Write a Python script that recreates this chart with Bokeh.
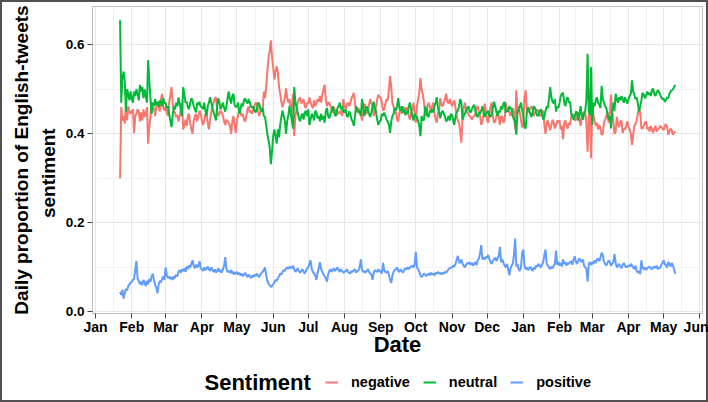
from datetime import datetime, timedelta
from bokeh.plotting import figure
from bokeh.layouts import column
from bokeh.models import (Range1d, FixedTicker, DatetimeTickFormatter, PrintfTickFormatter,
                          Legend, LegendItem, ColumnDataSource, LinearAxis, Label)
from bokeh.embed import file_html
from bokeh.resources import INLINE

# ---------------- data (daily proportions x 1000, from 2020-01-22 to 2021-05-11) ----------------
start_date = datetime(2020, 1, 22)

negative = [
    300, 460, 430, 440, 423, 460, 430, 462, 450, 445,                                   # Jan 20
    450, 455, 402, 440, 445, 455, 450, 428, 448, 430, 455, 438, 445, 460, 378, 415, 440, 470, 455, 458,
    440, 462, 470, 462, 450, 478, 490, 460, 452,                                        # Feb 20
    462, 448, 440, 470, 488, 505, 470, 452, 448, 438, 442, 428, 440, 455, 472, 410, 420, 432, 418, 440,
    445, 425, 410, 400, 430, 438, 445, 428, 440, 452, 445,                              # Mar 20
    430, 420, 432, 445, 442, 425, 410, 432, 448, 462, 470, 478, 482, 455, 440, 445, 452, 448, 440, 428,
    420, 432, 428, 425, 418, 400, 428, 440, 420, 402,                                   # Apr 20
    430, 442, 452, 448, 440, 445, 432, 428, 440, 455, 462, 448, 452, 445, 455, 462, 470, 468, 452, 440,
    448, 455, 450, 495, 480, 505, 540, 570, 585, 610, 572,                              # May 20
    550, 522, 540, 552, 538, 505, 490, 472, 460, 470, 482, 502, 480, 470, 478, 440, 462, 490, 395, 440,
    455, 470, 478, 482, 468, 472, 478, 462, 458, 470,                                   # Jun 20
    468, 482, 470, 462, 458, 475, 462, 470, 478, 472, 485, 470, 488, 500, 510, 478, 462, 470, 470, 462,
    455, 448, 460, 452, 440, 452, 445, 448, 452, 440, 478,                              # Jul 20
    462, 455, 466, 470, 462, 470, 480, 485, 492, 468, 448, 452, 458, 445, 445, 430, 448, 468, 462, 445,
    452, 465, 478, 468, 465, 440, 448, 460, 478, 488, 482,                              # Aug 20
    482, 470, 452, 455, 468, 478, 475, 498, 530, 505, 470, 462, 445, 450, 432, 428, 448, 455, 445, 462,
    448, 460, 452, 458, 440, 432, 445, 455, 470, 448,                                   # Sep 20
    425, 462, 478, 492, 525, 500, 488, 470, 448, 440, 462, 470, 460, 452, 462, 470, 448, 432, 425, 448,
    455, 480, 465, 462, 470, 478, 490, 472, 468, 478, 470,                              # Oct 20
    462, 470, 475, 458, 440, 430, 425, 405, 380, 438, 458, 470, 455, 448, 445, 440, 438, 432, 438, 440,
    445, 460, 462, 448, 440, 420, 428, 445, 468, 452,                                   # Nov 20
    430, 425, 445, 462, 470, 438, 425, 428, 440, 452, 438, 420, 440, 438, 425, 430, 470, 452, 458, 448,
    440, 450, 458, 448, 410, 498, 445, 462, 448, 432, 415,                              # Dec 20
    420, 480, 498, 455, 448, 452, 458, 462, 455, 440, 448, 452, 455, 448, 440, 442, 450, 452, 420, 400,
    425, 430, 418, 408, 420, 432, 425, 412, 420, 430, 425,                              # Jan 21
    430, 410, 418, 388, 425, 430, 418, 412, 425, 420, 440, 445, 442, 430, 432, 438, 448, 432, 418, 440,
    445, 448, 450, 422, 360, 438, 448, 345,                                             # Feb 21
    468, 440, 430, 418, 425, 410, 420, 412, 398, 400, 425, 432, 440, 448, 425, 442, 488, 452, 428, 400,
    405, 438, 422, 415, 428, 430, 402, 412, 410, 418, 428,                              # Mar 21
    415, 410, 400, 375, 398, 418, 422, 430, 445, 458, 448, 412, 412, 418, 425, 428, 410, 415, 405, 418,
    410, 402, 412, 418, 405, 410, 412, 418, 415, 412,                                   # Apr 21
    408, 418, 422, 415, 398, 405, 412, 408, 398, 402, 405,                              # May 21
]

neutral = [
    655, 470, 525, 540, 520, 450, 500, 490, 475, 495,
    480, 470, 495, 485, 500, 490, 475, 510, 495, 505, 480, 500, 485, 470, 565, 520, 480, 445, 470, 462,
    478, 465, 472, 460, 475, 470, 462, 480, 468,
    470, 458, 462, 445, 430, 415, 440, 462, 455, 470, 462, 482, 468, 455, 440, 505, 488, 470, 472, 460,
    455, 470, 480, 475, 462, 455, 448, 470, 465, 472, 460,
    462, 455, 470, 452, 440, 462, 470, 482, 470, 460, 448, 440, 430, 462, 480, 470, 455, 462, 470, 458,
    450, 462, 480, 495, 478, 468, 485, 490, 465, 460,
    462, 470, 445, 455, 468, 462, 475, 480, 472, 468, 478, 470, 462, 458, 462, 452, 448, 455, 470, 468,
    455, 450, 458, 440, 438, 420, 400, 385, 370, 332, 360,
    395, 410, 395, 378, 410, 392, 420, 438, 452, 440, 428, 400, 430, 442, 462, 448, 430, 412, 505, 472,
    458, 448, 435, 428, 440, 445, 432, 448, 452, 440,
    455, 420, 432, 445, 440, 430, 452, 448, 435, 440, 428, 445, 432, 440, 425, 450, 458, 440, 435, 445,
    452, 462, 450, 440, 445, 458, 462, 470, 455, 462, 450,
    448, 455, 440, 438, 450, 445, 432, 428, 418, 440, 462, 455, 448, 452, 440, 478, 462, 440, 450, 462,
    455, 445, 438, 448, 462, 472, 458, 448, 432, 420, 428,
    430, 445, 440, 448, 440, 432, 428, 420, 402, 428, 440, 445, 458, 452, 462, 480, 458, 452, 462, 448,
    455, 442, 450, 445, 462, 470, 455, 440, 430, 445,
    440, 438, 428, 418, 395, 440, 432, 430, 462, 455, 440, 438, 452, 448, 455, 448, 462, 470, 482, 458,
    448, 435, 448, 452, 445, 438, 428, 432, 440, 430, 445,
    442, 430, 420, 440, 448, 452, 462, 478, 470, 432, 440, 445, 452, 458, 462, 450, 448, 455, 462, 465,
    452, 440, 438, 448, 445, 452, 462, 450, 438, 445,
    448, 452, 440, 438, 445, 458, 472, 462, 448, 440, 452, 448, 462, 455, 468, 472, 448, 452, 450, 462,
    458, 455, 440, 432, 428, 398, 452, 450, 462, 470, 455,
    440, 415, 412, 448, 460, 452, 445, 438, 450, 462, 458, 448, 440, 442, 452, 455, 445, 432, 438, 452,
    462, 458, 480, 505, 482, 472, 468, 478, 450, 462, 458,
    470, 485, 490, 492, 470, 462, 478, 482, 470, 472, 445, 440, 432, 438, 450, 448, 430, 445, 462, 440,
    432, 448, 452, 478, 580, 450, 442, 550,
    420, 470, 462, 475, 482, 470, 465, 458, 508, 478, 470, 462, 458, 445, 432, 440, 412, 448, 470, 452,
    490, 478, 470, 482, 475, 485, 478, 470, 482, 475, 468,
    478, 485, 490, 520, 495, 488, 478, 482, 468, 450, 462, 475, 492, 488, 480, 485, 495, 488, 492, 485,
    498, 502, 490, 485, 492, 498, 495, 488, 482, 478,
    480, 472, 475, 482, 480, 490, 495, 498, 500, 505, 510,
]

positive = [
    45, 38, 50, 30, 42, 52, 48, 58, 62, 66,
    68, 72, 75, 95, 114, 75, 70, 62, 68, 60, 72, 66, 58, 70, 62, 74, 68, 80, 86, 72,
    60, 55, 42, 62, 70, 66, 74, 80, 72,
    100, 82, 76, 80, 74, 78, 72, 80, 76, 84, 80, 90, 94, 88, 96, 92, 98, 90, 102, 96,
    104, 100, 108, 116, 104, 98, 106, 100, 104, 114, 98,
    96, 92, 100, 94, 98, 102, 96, 92, 100, 94, 90, 96, 88, 92, 98, 90, 94, 88, 96, 104,
    123, 96, 90, 92, 88, 94, 86, 90, 84, 88,
    90, 84, 88, 82, 86, 80, 84, 88, 82, 78, 84, 80, 76, 82, 78, 84, 80, 86, 82, 78,
    84, 88, 90, 94, 100, 82, 70, 64, 60, 56, 58,
    62, 66, 72, 70, 76, 80, 86, 84, 90, 94, 92, 98, 100, 96, 102, 100, 98, 104, 96, 90,
    94, 98, 92, 88, 92, 96, 90, 86, 92, 98,
    100, 108, 116, 96, 90, 86, 82, 72, 88, 98, 112, 96, 90, 84, 80, 76, 68, 84, 92, 96,
    90, 94, 98, 92, 96, 100, 94, 90, 96, 92, 88,
    90, 92, 96, 90, 88, 86, 92, 90, 94, 96, 88, 92, 94, 100, 118, 94, 90, 92, 88, 92,
    96, 90, 86, 84, 72, 88, 94, 92, 90, 96, 90,
    92, 86, 110, 94, 90, 88, 92, 84, 72, 65, 82, 90, 94, 96, 100, 92, 90, 96, 92, 88,
    94, 98, 96, 100, 96, 100, 102, 104, 100, 106,
    135, 100, 96, 90, 82, 78, 82, 86, 84, 80, 84, 86, 82, 88, 84, 86, 82, 88, 86, 90,
    86, 88, 84, 88, 86, 90, 88, 92, 96, 98, 100,
    100, 104, 102, 108, 118, 126, 112, 110, 118, 108, 104, 100, 106, 110, 108, 112, 106, 110, 104, 108,
    112, 105, 116, 120, 132, 150, 118, 122, 118, 124,
    122, 128, 118, 112, 108, 116, 118, 122, 114, 120, 126, 146, 112, 118, 110, 104, 100, 108, 96, 82,
    98, 104, 108, 128, 165, 102, 108, 96, 92, 100, 132,
    140, 104, 96, 100, 94, 98, 102, 96, 92, 100, 96, 104, 102, 108, 104, 100, 106, 112, 128, 140,
    108, 104, 100, 96, 102, 98, 104, 108, 138, 106, 112,
    104, 110, 102, 118, 108, 112, 104, 110, 108, 112, 114, 106, 118, 125, 112, 108, 116, 120, 114, 112,
    118, 104, 100, 96, 68, 108, 112, 105,
    112, 108, 116, 110, 118, 120, 114, 122, 133, 128, 112, 108, 104, 110, 116, 112, 104, 108, 112, 130,
    110, 100, 104, 108, 102, 98, 106, 110, 104, 100, 102,
    104, 102, 108, 104, 100, 96, 104, 92, 88, 92, 85, 116, 98, 96, 100, 94, 98, 100, 102, 98,
    96, 100, 102, 98, 104, 96, 100, 98, 106, 110,
    116, 108, 104, 100, 112, 108, 102, 110, 104, 96, 86,
]

series_names = ["negative", "neutral", "positive"]
series_values = [negative, neutral, positive]
series_colors = ["#F8766D", "#00BA38", "#619CFF"]

month_ticks = [datetime(2020, m, 1) for m in range(1, 13)] + [datetime(2021, m, 1) for m in range(1, 7)]
y_ticks = [0.0, 0.2, 0.4, 0.6]
y_minor_ticks = [0.1, 0.3, 0.5]

y_title_lines = ["Daily proportion of English-tweets", "sentiment"]
x_title = "Date"
legend_title = "Sentiment"

# ---------------- main figure ----------------
EPOCH = datetime(1970, 1, 1)


def ms(dt):
    return (dt - EPOCH).total_seconds() * 1000.0


FONT = "Liberation Sans, Arial, sans-serif"
PAD = "\u00a0" * 5   # shifts the short rotated title line slightly downward, as in the reference

p = figure(width=708, height=366, x_axis_type="datetime", output_backend="svg",
           toolbar_location=None, min_border_left=92, min_border_right=6,
           min_border_top=6, min_border_bottom=53,
           x_range=Range1d(datetime(2019, 12, 29, 10), datetime(2021, 6, 3, 7)),
           y_range=Range1d(-0.0035, 0.686))
p.background_fill_color = "white"
p.border_fill_color = None
p.outline_line_color = "#BDBDBD"
p.outline_line_width = 1

renderers = []
for name, vals, col in zip(series_names, series_values, series_colors):
    dates = [start_date + timedelta(days=i) for i in range(len(vals))]
    src = ColumnDataSource(dict(date=dates, value=[v / 1000.0 for v in vals]))
    r = p.line("date", "value", source=src, line_color=col, line_width=2)
    renderers.append(r)

tick_ms = [ms(d) for d in month_ticks]
minor_ms = [(a + b) / 2 for a, b in zip(tick_ms[:-1], tick_ms[1:])]
p.xaxis.ticker = FixedTicker(ticks=tick_ms, minor_ticks=minor_ms)
fmt = "%b"
p.xaxis.formatter = DatetimeTickFormatter(microseconds=fmt, milliseconds=fmt, seconds=fmt, minsec=fmt,
                                          minutes=fmt, hourmin=fmt, hours=fmt, days=fmt,
                                          months=fmt, years=fmt)
p.yaxis.ticker = FixedTicker(ticks=y_ticks, minor_ticks=y_minor_ticks)
p.yaxis.formatter = PrintfTickFormatter(format="%.1f")

for g in (p.xgrid, p.ygrid):
    g.grid_line_color = "#E6E6E6"
    g.grid_line_width = 1.1
    g.minor_grid_line_color = "#F2F2F2"
    g.minor_grid_line_width = 1

for ax in (p.xaxis, p.yaxis):
    ax.axis_line_color = None
    ax.major_tick_line_color = "#444444"
    ax.major_tick_in = 0
    ax.major_tick_out = 5
    ax.minor_tick_line_color = None
    ax.major_label_text_font = FONT
    ax.major_label_text_font_style = "bold"
    ax.major_label_text_color = "black"
    ax.axis_label_text_font = FONT
    ax.axis_label_text_font_style = "bold"
    ax.axis_label_text_color = "black"

p.xaxis.major_label_text_font_size = "14px"
p.xaxis.major_label_standoff = 0
p.xaxis.axis_label = x_title
p.xaxis.axis_label_text_font_size = "22px"
p.xaxis.axis_label_standoff = -6

p.yaxis.major_label_text_font_size = "13.5px"
p.yaxis.major_label_standoff = 3
p.yaxis.axis_label = y_title_lines[1] + PAD
p.yaxis.axis_label_text_font_size = "19px"
p.yaxis.axis_label_standoff = 4

title_axis = LinearAxis(ticker=FixedTicker(ticks=[]), axis_label=y_title_lines[0],
                        axis_line_color=None, major_tick_line_color=None, minor_tick_line_color=None,
                        major_tick_out=0, major_tick_in=0, major_label_standoff=0,
                        axis_label_standoff=3, axis_label_text_font=FONT,
                        axis_label_text_font_style="bold", axis_label_text_font_size="19px",
                        axis_label_text_color="black")
p.add_layout(title_axis, "left")

# ---------------- legend strip (own small figure below the plot; frames are aligned) ----------------
lg = figure(width=708, height=36, output_backend="svg", toolbar_location=None,
            x_axis_location=None, y_axis_location=None, min_border=0,
            x_range=Range1d(0, 1), y_range=Range1d(0, 1))
lg.outline_line_color = None
lg.xgrid.visible = False
lg.ygrid.visible = False
lg.background_fill_color = None
lg.border_fill_color = None

key_renderers = []
for name, col in zip(series_names, series_colors):
    # keys only: the segment lies outside the visible range
    key_renderers.append(lg.line(x=[0, 1], y=[-5, -5], line_color=col, line_width=2))

lg.add_layout(Label(x=112, y=20, x_units="screen", y_units="screen", text=legend_title,
                    text_align="left", text_baseline="middle", text_font=FONT,
                    text_font_style="bold", text_font_size="22px", text_color="black"))
legend = Legend(items=[LegendItem(label=n, renderers=[r]) for n, r in zip(series_names, key_renderers)],
                orientation="horizontal", location=(233, 10),
                glyph_width=13, glyph_height=20, label_standoff=13, spacing=13,
                padding=0, margin=0, border_line_color=None, background_fill_alpha=0,
                label_text_font=FONT, label_text_font_style="bold", label_text_font_size="14.5px",
                label_text_color="black", label_height=20)
lg.add_layout(legend)

# thin dark frame around the whole picture, as in the reference
layout = column(p, lg, spacing=0,
                styles={"box-shadow": "inset 0 0 0 2px #505050", "background-color": "white"})
open("out.html", "w").write(file_html(layout, INLINE))
